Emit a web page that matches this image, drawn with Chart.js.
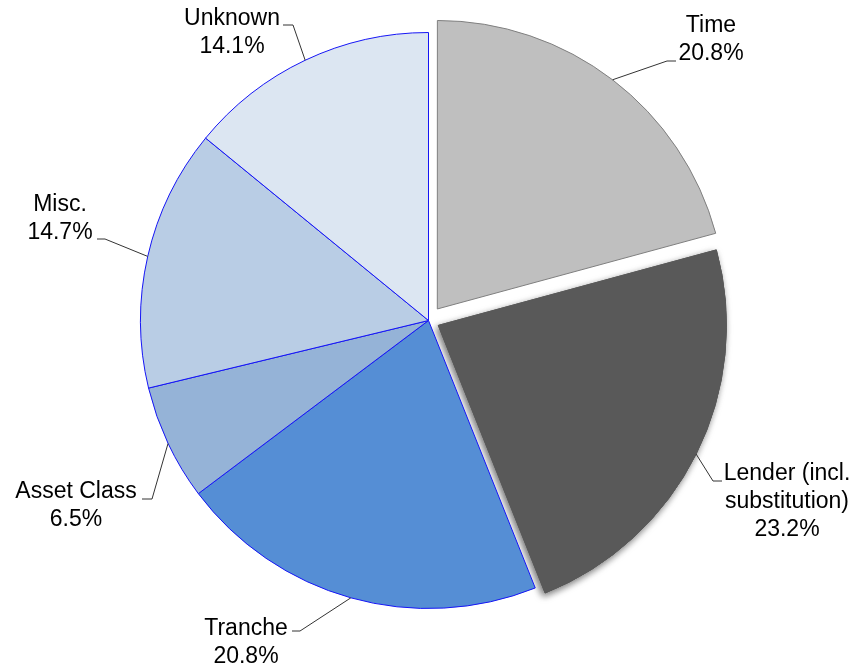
<!DOCTYPE html>
<html>
<head>
<meta charset="utf-8">
<script src="https://cdn.jsdelivr.net/npm/chart.js@4.4.1/dist/chart.umd.min.js"></script>
<style>
  html, body { margin: 0; padding: 0; background: #fff; }
  #wrap { width: 855px; height: 671px; }
</style>
</head>
<body>
<div id="wrap"><canvas id="pie" width="855" height="671"></canvas></div>
<script>
// slice names (array = several lines) and their share in percent
const categories = ['Time', ['Lender (incl.', 'substitution)'], 'Tranche', 'Asset Class', 'Misc.', 'Unknown'];
const shares = [20.8, 23.2, 20.8, 6.5, 14.7, 14.1];

const fillColors = ['#BFBFBF', '#595959', '#558ED5', '#95B3D7', '#B9CDE5', '#DCE6F2'];
const edgeColors = ['#7F7F7F', '#595959', '#1515F5', '#1515F5', '#1515F5', '#1515F5'];
const pullOut = [58, 44, 0, 0, 0, 0];

// where each callout sits: text centre, first line middle, elbow of the leader, end of the short tail
const callouts = [
    { tx: 711, ty: 26, elbow: [667, 61], tail: 676 },
    { tx: 787, ty: 474, elbow: [713, 481], tail: 722 },
    { tx: 246, ty: 629, elbow: [300, 631], tail: 292 },
    { tx: 76, ty: 492, elbow: [152, 499], tail: 142 },
    { tx: 60, ty: 205, elbow: [105, 239], tail: 97 },
    { tx: 232, ty: 19, elbow: [293, 25], tail: 283 }
];

const lenderShadow = {
    id: 'lenderShadow',
    beforeDatasetsDraw(chart) {
        const arc = chart.getDatasetMeta(0).data[1];
        const ctx = chart.ctx;
        ctx.save();
        ctx.shadowColor = 'rgba(0, 0, 0, 0.55)';
        ctx.shadowBlur = 7;
        ctx.shadowOffsetX = -2;
        ctx.shadowOffsetY = 3;
        arc.draw(ctx);
        ctx.restore();
    }
};

const calloutLabels = {
    id: 'calloutLabels',
    afterDatasetsDraw(chart) {
        const ctx = chart.ctx;
        const arcs = chart.getDatasetMeta(0).data;
        ctx.save();
        ctx.font = '23px "Liberation Sans", Arial, sans-serif';
        ctx.textAlign = 'center';
        ctx.textBaseline = 'middle';
        arcs.forEach((arc, i) => {
            const c = callouts[i];
            const mid = (arc.startAngle + arc.endAngle) / 2;
            // same shift the arc element applies for its offset
            const fix = 1 - Math.sin(Math.min(Math.PI, arc.circumference));
            const shift = (pullOut[i] / 4) * (1 + fix);
            const r = arc.outerRadius + shift;
            const sx = arc.x + Math.cos(mid) * r;
            const sy = arc.y + Math.sin(mid) * r;

            ctx.strokeStyle = '#333';
            ctx.lineWidth = 1;
            ctx.beginPath();
            ctx.moveTo(sx, sy);
            ctx.lineTo(c.elbow[0], c.elbow[1]);
            ctx.lineTo(c.tail, c.elbow[1]);
            ctx.stroke();

            const name = chart.data.labels[i];
            const lines = (Array.isArray(name) ? name.slice() : [name]);
            lines.push(shares[i].toFixed(1) + '%');
            ctx.fillStyle = '#000';
            lines.forEach((ln, k) => ctx.fillText(ln, c.tx, c.ty + k * 28));
        });
        ctx.restore();
    }
};

new Chart(document.getElementById('pie'), {
    type: 'pie',
    data: {
        labels: categories,
        datasets: [{
            data: shares,
            backgroundColor: fillColors,
            borderColor: edgeColors,
            borderWidth: 1,
            offset: pullOut,
            radius: 288
        }]
    },
    options: {
        responsive: false,
        animation: false,
        events: [],
        layout: { padding: { left: 2, right: 0, top: 0, bottom: 30 } },
        plugins: {
            legend: { display: false },
            tooltip: { enabled: false }
        }
    },
    plugins: [lenderShadow, calloutLabels]
});
</script>
</body>
</html>
